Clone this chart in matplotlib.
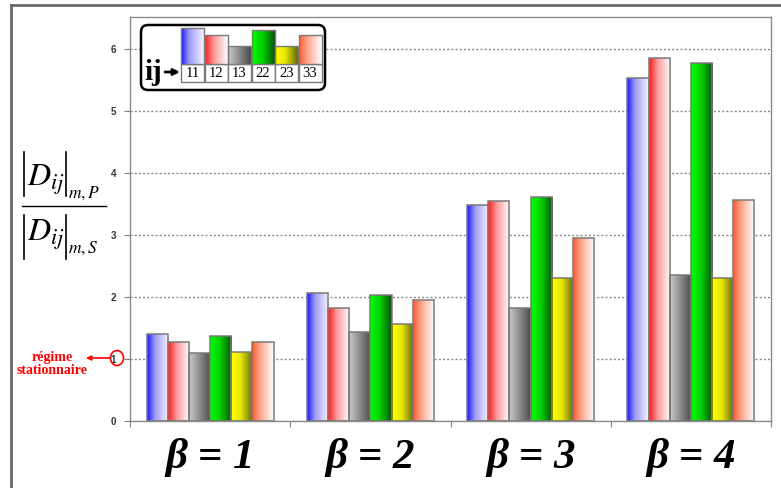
import matplotlib
matplotlib.use('Agg')
import matplotlib.pyplot as plt
import numpy as np
from matplotlib.colors import LinearSegmentedColormap
from matplotlib.patches import FancyBboxPatch, Rectangle, Ellipse
from matplotlib.lines import Line2D

plt.rcParams['mathtext.fontset'] = 'stix'

# data
groups = ['β = 1', 'β = 2', 'β = 3', 'β = 4']
series = ['11', '12', '13', '22', '23', '33']
d11 = [1.40, 2.06, 3.49, 5.53]
d12 = [1.28, 1.82, 3.55, 5.86]
d13 = [1.10, 1.44, 1.83, 2.36]
d22 = [1.37, 2.04, 3.61, 5.77]
d23 = [1.11, 1.56, 2.31, 2.31]
d33 = [1.27, 1.96, 2.95, 3.56]
values = [d11, d12, d13, d22, d23, d33]
legend_heights = [36, 29, 18, 34, 18, 29]  # icon heights in the key box
yticks = [0, 1, 2, 3, 4, 5, 6]

cmaps = [
    LinearSegmentedColormap.from_list('b', [(0, '#1414ff'), (0.35, '#9a9aff'), (1, '#f4f4ff')]),
    LinearSegmentedColormap.from_list('r', [(0, '#ff1a1a'), (0.4, '#ff9a9a'), (1, '#ffffff')]),
    LinearSegmentedColormap.from_list('g', [(0, '#cacaca'), (1, '#4a4a4a')]),
    LinearSegmentedColormap.from_list('gr', [(0, '#00ff00'), (0.45, '#00d200'), (1, '#005a00')]),
    LinearSegmentedColormap.from_list('y', [(0, '#ffff00'), (0.45, '#e6e600'), (1, '#6a6a00')]),
    LinearSegmentedColormap.from_list('o', [(0, '#ff5a30'), (0.4, '#ffaa90'), (1, '#ffffff')]),
]
grad = np.linspace(0, 1, 64).reshape(1, -1)


def fill_gradient(ax, rect, cmap):
    x0, y0 = rect.get_x(), rect.get_y()
    w, h = rect.get_width(), rect.get_height()
    im = ax.imshow(grad, extent=(x0, x0 + w, y0, y0 + h), cmap=cmap, aspect='auto',
                   origin='lower', interpolation='bilinear', zorder=2.5)
    im.set_clip_path(rect)


def fx(px):
    return px / 781


def fy(py):
    return 1 - py / 488


fig = plt.figure(figsize=(7.81, 4.88), dpi=100)
ax = fig.add_axes([fx(130), fy(421), 641 / 781, 404 / 488])

x = np.arange(len(groups))
width = 0.132
for i, vals in enumerate(values):
    bars = ax.bar(x + (i - 2.5) * width, vals, width, facecolor='none',
                  edgecolor='#7a7a7a', linewidth=1.1, zorder=3)
    for b in bars:
        fill_gradient(ax, b, cmaps[i])

ax.set_xlim(-0.5, 3.5)
ax.set_ylim(0, 6.52)
ax.set_axisbelow(True)
ax.yaxis.grid(True, linestyle=(0, (1.5, 1.5)), color='#8a8a8a', linewidth=1)
ax.set_yticks(yticks)
ax.set_yticklabels([str(t) for t in yticks], fontsize=7, fontweight='bold',
                   family='Liberation Sans', color='#333333')
ax.tick_params(axis='y', length=4, color='#808080', pad=6)
ax.set_xticks(np.arange(-0.5, 4, 1))
ax.set_xticklabels([])
ax.tick_params(axis='x', which='major', length=4, color='#808080')
ax.set_xticks(x, minor=True)
ax.set_xticklabels(groups, minor=True, fontsize=31, fontweight='bold',
                   fontstyle='italic', family='Liberation Serif')
ax.tick_params(axis='x', which='minor', length=0, pad=12)
for s in ax.spines.values():
    s.set_color('#8a8a8a')
    s.set_linewidth(1)

# outer frame
fig.add_artist(Line2D([fx(11), 1], [fy(5), fy(5)], color='#6a6a6a', lw=2))
fig.add_artist(Line2D([fx(11), fx(11)], [0, fy(5)], color='#6a6a6a', lw=2))

# y label: |D_ij|_{m,P} / |D_ij|_{m,S}
for top, bot, base, sub_base, sub in [(152, 196, 186, 198, 'm,P'),
                                      (215, 259, 241, 253, 'm,S')]:
    for bx in (24, 66):
        fig.add_artist(Line2D([fx(bx), fx(bx)], [fy(top), fy(bot)], color='black', lw=1.2))
    fig.text(fx(27), fy(base), r'$D_{ij}$', fontsize=23, ha='left', va='baseline')
    fig.text(fx(68), fy(sub_base), '$' + sub + '$', fontsize=12.5, ha='left', va='baseline')
fig.add_artist(Line2D([fx(22), fx(106)], [fy(206), fy(206)], color='black', lw=1))

# steady-state marker
fig.add_artist(Ellipse((fx(117), fy(358)), 13 / 781, 15 / 488, fill=False,
                       edgecolor='red', lw=1.2))
fig.add_artist(plt.Annotation('', xy=(fx(86), fy(358)), xycoords='figure fraction',
                              xytext=(fx(110), fy(358)), textcoords='figure fraction',
                              arrowprops=dict(arrowstyle='-|>', color='red', lw=1.2,
                                              mutation_scale=7, shrinkA=0, shrinkB=0)))
fig.text(fx(52), fy(364), 'régime\nstationnaire', color='red', fontsize=10,
         fontweight='bold', family='Liberation Serif', ha='center', va='center',
         linespacing=1.05)

# key box
lx = fig.add_axes([fx(139), fy(92), 188 / 781, 69 / 488])
lx.set_xlim(0, 188)
lx.set_ylim(0, 69)
lx.axis('off')
lx.add_patch(FancyBboxPatch((2, 2), 184, 65, boxstyle='round,pad=0,rounding_size=7',
                            facecolor='white', edgecolor='black', lw=1.8))
for i, name in enumerate(series):
    bx = 42 + i * 23.5
    r = Rectangle((bx, 28), 23, legend_heights[i], facecolor='none', edgecolor='#7a7a7a',
                  lw=1, zorder=3)
    lx.add_patch(r)
    fill_gradient(lx, r, cmaps[i])
    lx.add_patch(Rectangle((bx, 10), 23, 18, facecolor='white', edgecolor='#7a7a7a', lw=1))
    lx.text(bx + 11.5, 18.5, name, ha='center', va='center', fontsize=10.5,
            family='Liberation Serif')
lx.set_xlim(0, 188)
lx.set_ylim(0, 69)
lx.text(5, 19, 'ij', fontsize=21, fontweight='bold', family='Liberation Serif',
        ha='left', va='center')
lx.annotate('', xy=(41, 20), xytext=(26, 20),
            arrowprops=dict(arrowstyle='-|>', color='black', lw=2, mutation_scale=9,
                            shrinkA=0, shrinkB=0))

ax.set_xlim(-0.5, 3.5)
ax.set_ylim(0, 6.52)
plt.savefig('out.png', dpi=100)
